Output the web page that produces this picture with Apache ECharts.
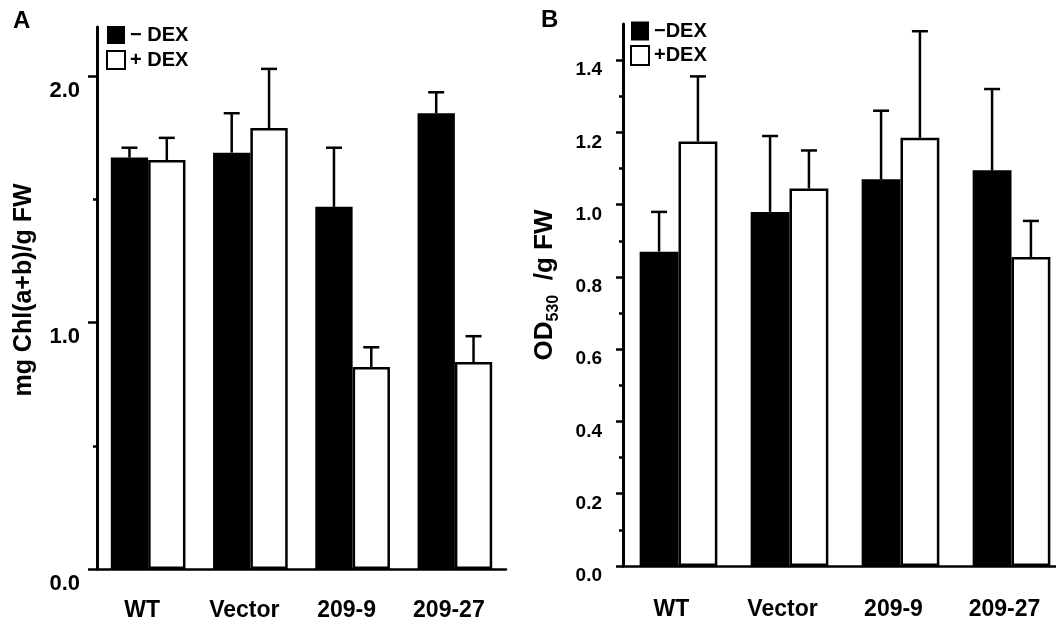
<!DOCTYPE html>
<html><head><meta charset="utf-8">
<script src="https://cdn.jsdelivr.net/npm/echarts@6/dist/echarts.min.js"></script>
<style>html,body{margin:0;padding:0;background:#fff}#c{width:1056px;height:624px}</style>
</head><body><div id="c"></div>
<script>
const categories = ['WT', 'Vector', '209-9', '209-27'];
// Panel A: chlorophyll (mg Chl(a+b)/g FW)
const chlMinus = [1.67, 1.69, 1.47, 1.85];
const chlMinusErr = [0.04, 0.16, 0.24, 0.085];
const chlPlus = [1.66, 1.79, 0.82, 0.84];
const chlPlusErr = [0.09, 0.24, 0.08, 0.105];
// Panel B: OD530 / g FW
const odMinus = [0.87, 0.98, 1.07, 1.095];
const odMinusErr = [0.11, 0.21, 0.19, 0.225];
const odPlus = [1.175, 1.045, 1.185, 0.855];
const odPlusErr = [0.18, 0.105, 0.295, 0.10];
// tick values
const chlTicks = [0, 1, 2];
const chlMinorTicks = [0.5, 1.5];
const odTicks = [0, 0.2, 0.4, 0.6, 0.8, 1.0, 1.2, 1.4];
const odMinorTicks = [0.1, 0.3, 0.5, 0.7, 0.9, 1.1, 1.3];

const FONT = "'Liberation Sans', Arial, Helvetica, sans-serif";
const gapA = 0.27, gapB = 0.30;

function errRender(gap, side) {
  return function (params, api) {
    const i = api.value(0), m = api.value(1), t = api.value(2);
    const p0 = api.coord([i, m]);
    const p1 = api.coord([i, t]);
    const band = api.size([1, 0])[0];
    const w = band * (1 - gap) / 2;
    const x = p0[0] + side * w / 2;
    const cap = 8;
    const style = { stroke: '#000', lineWidth: 2.5 };
    return { type: 'group', children: [
      { type: 'line', shape: { x1: x, y1: p0[1], x2: x, y2: p1[1] }, style: style },
      { type: 'line', shape: { x1: x - cap, y1: p1[1], x2: x + cap, y2: p1[1] }, style: style }
    ]};
  };
}
function errData(means, errs) { return means.map((v, i) => [i, v, v + errs[i]]); }

const lblBase = { color: '#000', fontWeight: 'bold', fontFamily: FONT };
const tickStyle = { color: '#000', width: 2.5 };

const option = {
  animation: false,
  backgroundColor: '#fff',
  title: [
    { text: 'A', left: 13, top: 9, padding: 0, textStyle: { fontSize: 24, fontWeight: 'bold', fontFamily: FONT, color: '#000' } },
    { text: 'B', left: 541, top: 8, padding: 0, textStyle: { fontSize: 24, fontWeight: 'bold', fontFamily: FONT, color: '#000' } }
  ],
  legend: [
    { left: 106, top: 25, orient: 'vertical', icon: 'rect', itemWidth: 18, itemHeight: 18, itemGap: 5, padding: 0, selectedMode: false,
      data: [ { name: '− DEX', itemStyle: { color: '#000', borderWidth: 0 } },
              { name: '+ DEX', itemStyle: { color: '#fff', borderColor: '#000', borderWidth: 2 } } ],
      textStyle: Object.assign({ fontSize: 20 }, lblBase) },
    { left: 630, top: 21, orient: 'vertical', icon: 'rect', itemWidth: 18, itemHeight: 19, itemGap: 4, padding: 0, selectedMode: false,
      data: [ { name: '−DEX', itemStyle: { color: '#000', borderWidth: 0 } },
              { name: '+DEX', itemStyle: { color: '#fff', borderColor: '#000', borderWidth: 2 } } ],
      textStyle: Object.assign({ fontSize: 20 }, lblBase) }
  ],
  grid: [
    { left: 97, right: 550, top: 27, bottom: 55, outerBoundsMode: 'none', containLabel: false },
    { left: 623, right: -11, top: 24, bottom: 58, outerBoundsMode: 'none', containLabel: false }
  ],
  xAxis: [
    { gridIndex: 0, type: 'category', data: categories,
      axisLine: { lineStyle: { color: '#000', width: 2.5 } },
      axisTick: { length: 4, lineStyle: { color: '#000', width: 2 } },
      axisLabel: Object.assign({ fontSize: 23, margin: 30, padding: [0, 12, 0, 0] }, lblBase) },
    { gridIndex: 1, type: 'category', data: categories,
      axisLine: { lineStyle: { color: '#000', width: 2.5 } },
      axisTick: { length: 4, lineStyle: { color: '#000', width: 2 } },
      axisLabel: Object.assign({ fontSize: 23, margin: 32, padding: [0, 14, 0, 0] }, lblBase) }
  ],
  yAxis: [
    { gridIndex: 0, type: 'value', min: 0, max: 2.2, interval: 1, position: 'left',
      axisLine: { show: true, lineStyle: { color: '#000', width: 3 } },
      axisTick: { show: true, length: 9, lineStyle: tickStyle, customValues: chlTicks },
      axisLabel: Object.assign({ customValues: chlTicks, formatter: v => v.toFixed(1), fontSize: 22, margin: 17,
        verticalAlign: 'top', lineHeight: 29 }, lblBase),
      splitLine: { show: false },
      name: 'mg Chl(a+b)/g FW', nameLocation: 'middle', nameRotate: 90, nameGap: 60,
      nameTextStyle: Object.assign({ fontSize: 25, padding: [0, 0, 0, 16] }, lblBase) },
    { gridIndex: 0, type: 'value', min: 0, max: 2.2, interval: 0.5, position: 'left',
      axisLine: { show: false },
      axisTick: { show: true, length: 4, lineStyle: tickStyle, customValues: chlMinorTicks },
      axisLabel: { show: false }, splitLine: { show: false } },
    { gridIndex: 1, type: 'value', min: 0, max: 1.5, interval: 0.1, position: 'left',
      axisLine: { show: true, lineStyle: { color: '#000', width: 3 } },
      axisTick: { show: true, length: 7, lineStyle: tickStyle, customValues: odTicks },
      axisLabel: Object.assign({ customValues: odTicks, formatter: v => v.toFixed(1), fontSize: 19, margin: 21,
        verticalAlign: 'top', lineHeight: 20 }, lblBase),
      splitLine: { show: false },
      name: '{a|OD}{s|530}{a|  /g FW}', nameLocation: 'middle', nameRotate: 90, nameGap: 61,
      nameTextStyle: { padding: [0, 0, 0, 20], rich: {
        a: { fontSize: 26, fontWeight: 'bold', fontFamily: FONT, color: '#000', lineHeight: 35, verticalAlign: 'middle' },
        s: { fontSize: 16, fontWeight: 'bold', fontFamily: FONT, color: '#000', lineHeight: 16, verticalAlign: 'bottom' } } } },
    { gridIndex: 1, type: 'value', min: 0, max: 1.5, interval: 0.1, position: 'left',
      axisLine: { show: false },
      axisTick: { show: true, length: 4, lineStyle: tickStyle, customValues: odMinorTicks },
      axisLabel: { show: false }, splitLine: { show: false } }
  ],
  series: [
    { type: 'bar', name: '− DEX', xAxisIndex: 0, yAxisIndex: 0, data: chlMinus, barGap: '0%', barCategoryGap: (gapA * 100) + '%',
      itemStyle: { color: '#000' } },
    { type: 'bar', name: '+ DEX', xAxisIndex: 0, yAxisIndex: 0, data: chlPlus, barGap: '0%', barCategoryGap: (gapA * 100) + '%',
      itemStyle: { color: '#fff', borderColor: '#000', borderWidth: 2.5 } },
    { type: 'custom', name: 'errA-', xAxisIndex: 0, yAxisIndex: 0, data: errData(chlMinus, chlMinusErr), renderItem: errRender(gapA, -1), z: 5 },
    { type: 'custom', name: 'errA+', xAxisIndex: 0, yAxisIndex: 0, data: errData(chlPlus, chlPlusErr), renderItem: errRender(gapA, 1), z: 5 },
    { type: 'bar', name: '−DEX', xAxisIndex: 1, yAxisIndex: 2, data: odMinus, barGap: '0%', barCategoryGap: (gapB * 100) + '%',
      itemStyle: { color: '#000' } },
    { type: 'bar', name: '+DEX', xAxisIndex: 1, yAxisIndex: 2, data: odPlus, barGap: '0%', barCategoryGap: (gapB * 100) + '%',
      itemStyle: { color: '#fff', borderColor: '#000', borderWidth: 2.5 } },
    { type: 'custom', name: 'errB-', xAxisIndex: 1, yAxisIndex: 2, data: errData(odMinus, odMinusErr), renderItem: errRender(gapB, -1), z: 5 },
    { type: 'custom', name: 'errB+', xAxisIndex: 1, yAxisIndex: 2, data: errData(odPlus, odPlusErr), renderItem: errRender(gapB, 1), z: 5 }
  ]
};
const chart = echarts.init(document.getElementById('c'), null, { renderer: 'canvas' });
chart.setOption(option);
</script></body></html>
